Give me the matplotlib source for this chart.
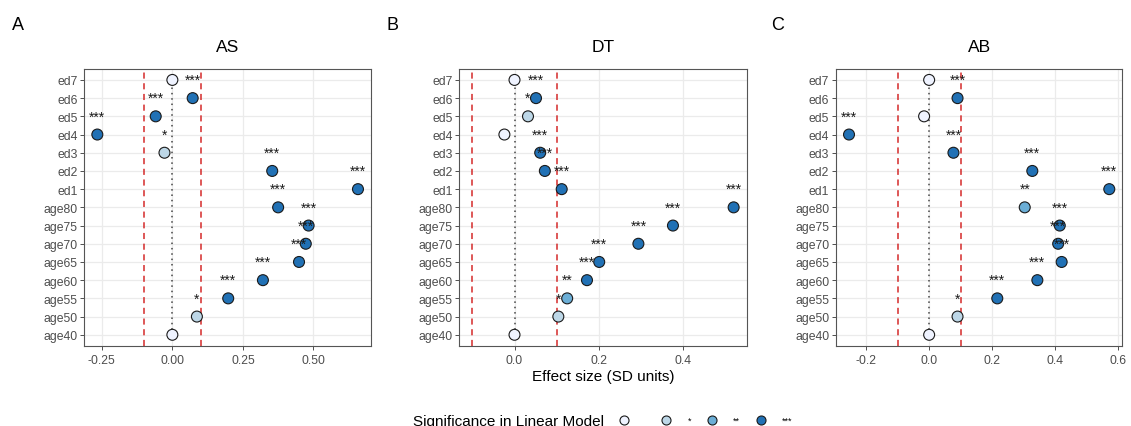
import matplotlib
matplotlib.use("Agg")
import matplotlib.pyplot as plt
from matplotlib.lines import Line2D

plt.rcParams["font.family"] = ["Liberation Sans", "DejaVu Sans"]

# -------------------------------------------------------
# Data
# -------------------------------------------------------
categories = ["ed7", "ed6", "ed5", "ed4", "ed3", "ed2", "ed1",
              "age80", "age75", "age70", "age65", "age60", "age55", "age50", "age40"]

as_values = [0.00, 0.072, -0.059, -0.266, -0.028, 0.354, 0.658,
             0.375, 0.483, 0.473, 0.449, 0.321, 0.198, 0.087, 0.00]
as_sig = ["", "***", "***", "***", "*", "***", "***",
          "***", "***", "***", "***", "***", "***", "*", ""]

dt_values = [0.00, 0.051, 0.032, -0.024, 0.061, 0.072, 0.112,
             0.520, 0.376, 0.294, 0.201, 0.172, 0.125, 0.104, 0.00]
dt_sig = ["", "***", "*", "", "***", "***", "***",
          "***", "***", "***", "***", "***", "**", "*", ""]

ab_values = [0.00, 0.090, -0.016, -0.254, 0.077, 0.327, 0.571,
             0.303, 0.414, 0.409, 0.420, 0.343, 0.216, 0.090, 0.00]
ab_sig = ["", "***", "", "***", "***", "***", "***",
          "**", "***", "***", "***", "***", "***", "*", ""]

panel_titles = ["AS", "DT", "AB"]
panel_letters = ["A", "B", "C"]
x_ticks = [[-0.25, 0.0, 0.25, 0.5], [0.0, 0.2, 0.4], [-0.2, 0.0, 0.2, 0.4, 0.6]]
x_ticklabels = [["-0.25", "0.00", "0.25", "0.50"], ["0.0", "0.2", "0.4"],
                ["-0.2", "0.0", "0.2", "0.4", "0.6"]]

sig_levels = ["", "*", "**", "***"]
sig_colors = {"": "#EFF3FF", "*": "#BDD7E7", "**": "#6BAED6", "***": "#2171B5"}

threshold = 0.1

# -------------------------------------------------------
# Figure
# -------------------------------------------------------
W, H = 1131, 427
fig = plt.figure(figsize=(W / 100, H / 100), dpi=100)

ax_lefts = [84.3, 459.3, 836.0]
ax_widths = [286.7, 287.4, 286.3]
ax_top, ax_bottom = 70.0, 346.7
letter_x = [12, 387, 771]

panels = [(as_values, as_sig), (dt_values, dt_sig), (ab_values, ab_sig)]
n = len(categories)
ypos = [n - 1 - i for i in range(n)]

for k, (vals, sigs) in enumerate(panels):
    ax = fig.add_axes([ax_lefts[k] / W, 1 - ax_bottom / H,
                       ax_widths[k] / W, (ax_bottom - ax_top) / H])

    # ggplot-like limits (include threshold lines, 5% expansion)
    lo = min(min(vals), -threshold)
    hi = max(max(vals), threshold)
    pad = (hi - lo) * 0.05
    ax.set_xlim(lo - pad, hi + pad)
    ax.set_ylim(-0.6, n - 1 + 0.6)

    ax.set_xticks(x_ticks[k])
    ax.set_xticklabels(x_ticklabels[k])
    ax.set_yticks(ypos)
    ax.set_yticklabels(categories)
    ax.grid(True, color="#EBEBEB", lw=0.9, zorder=0)
    ax.set_axisbelow(True)
    for s in ax.spines.values():
        s.set_color("#555555")
        s.set_linewidth(0.8)
    ax.tick_params(axis="both", length=2.75, width=0.6, color="#333333",
                   labelcolor="#4D4D4D", labelsize=8.8)
    ax.tick_params(axis="y", pad=2.2)
    ax.tick_params(axis="x", pad=3.5)

    ax.axvline(-threshold, color="#D42A2A", ls=(0, (4, 3)), lw=1.1, zorder=1)
    ax.axvline(threshold, color="#D42A2A", ls=(0, (4, 3)), lw=1.1, zorder=1)
    ax.plot([0, 0], [ypos[-1], ypos[0]], color="#444444", ls=(0, (1, 2.5)),
            lw=1.1, zorder=1)

    ax.scatter(vals, ypos, s=62, c=[sig_colors[s] for s in sigs],
               edgecolors="#1a1a1a", linewidths=0.8, zorder=3)

    # significance labels (drawn one row above each point, as in the original)
    for v, y, s in zip(vals, ypos, sigs):
        if s:
            ax.text(v, y + 1, s, ha="center", va="center", fontsize=10,
                    color="#1a1a1a", zorder=4, clip_on=True)

    ax.text(0.5, 1 + 18.3 / (ax_bottom - ax_top), panel_titles[k],
            transform=ax.transAxes, ha="center", va="baseline", fontsize=12.5)
    fig.text(letter_x[k] / W, 1 - 30 / H, panel_letters[k],
             ha="left", va="baseline", fontsize=13)

# x axis title
fig.text((459.3 + 746.7) / 2 / W, 1 - 376.7 / H, "Effect size (SD units)",
         ha="center", va="center", fontsize=11)

# legend
fig.text(413 / W, 1 - 421.7 / H, "Significance in Linear Model",
         ha="left", va="center", fontsize=11)
handles = [Line2D([], [], ls="none", marker="o", markersize=6.5,
                  markerfacecolor=sig_colors[s], markeredgecolor="#1a1a1a",
                  markeredgewidth=0.8) for s in sig_levels]
fig.legend(handles, sig_levels, loc="center left",
           bbox_to_anchor=(615.3 / W, 1 - 421.7 / H), ncol=4, frameon=False,
           fontsize=6.5, borderpad=0, borderaxespad=0, handlelength=2,
           handletextpad=1.33, columnspacing=1.33)

fig.savefig("out.png", dpi=100)
